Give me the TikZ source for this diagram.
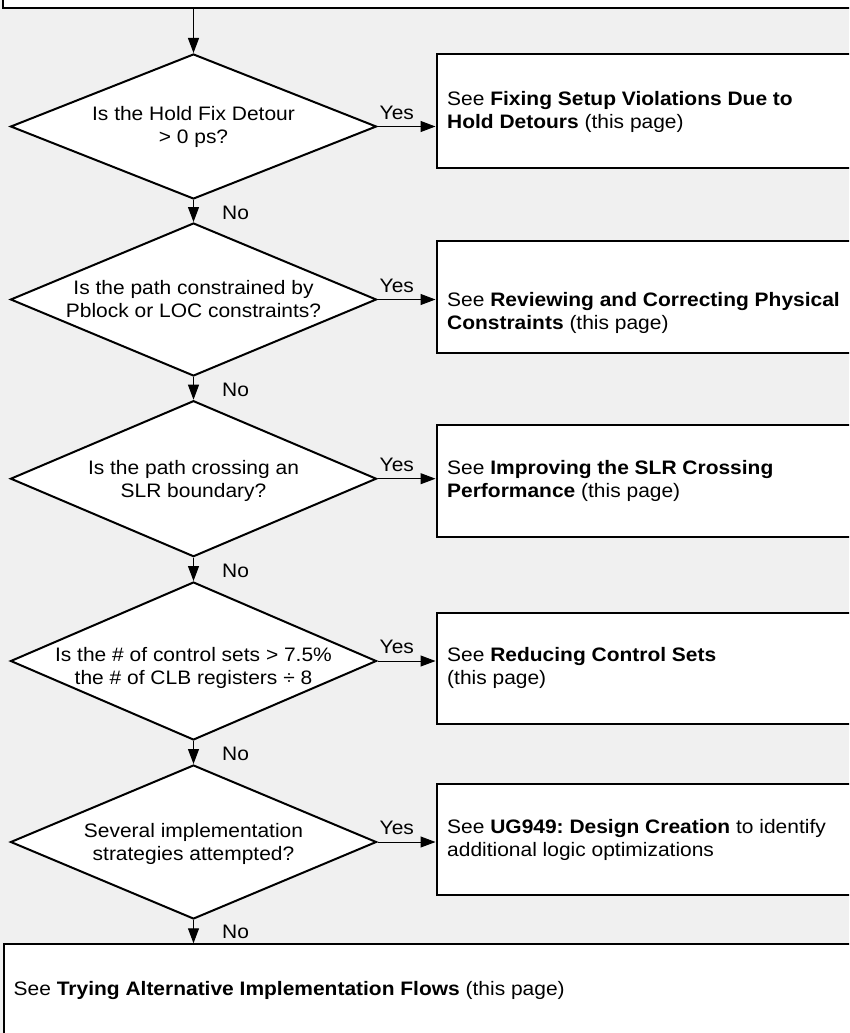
\documentclass[tikz,border=0pt]{standalone}
\usepackage{fontspec}
\setmainfont{Liberation Sans}[FakeStretch=1.075]
\usetikzlibrary{shapes.geometric,arrows.meta,calc}
\definecolor{bgc}{HTML}{F0F0F0}
\frenchspacing
\begin{document}
\begin{tikzpicture}[x=1pt,y=-1pt,
  every node/.style={font=\fontsize{19.5}{23}\selectfont, inner sep=0pt},
  dia/.style={shape=diamond, draw, fill=white, line width=2pt, minimum width=366pt},
  box/.style={draw, fill=white, line width=2pt, anchor=north west, minimum width=450pt},
  qtext/.style={align=center},
  btext/.style={align=left, anchor=north west},
  arr/.style={line width=1pt, -{Triangle[length=15pt,width=11pt]}},
  lbl/.style={anchor=base west}]
\useasboundingbox (0,0) rectangle (849,1033);
\fill[bgc] (0,0) rectangle (849,1033);
\clip (0,0) rectangle (849,1033);

% boxes
\node[box, anchor=south west, minimum width=900pt, minimum height=40pt] (top) at (2,9) {};
\node[box, minimum height=114pt] (b1) at (435.5,53) {};
\node[box, minimum height=111.7pt] (b2) at (435.5,240) {};
\node[box, minimum height=111.4pt] (b3) at (435.5,424.3) {};
\node[box, minimum height=111.3pt] (b4) at (435.5,611.7) {};
\node[box, minimum height=111.3pt] (b5) at (435.5,782.7) {};
\node[box, minimum width=900pt, minimum height=150pt] (fin) at (3,943.3) {};

% diamonds
\node[dia, minimum height=145pt] (d1) at (193.5,126.5) {};
\node[dia, minimum height=153pt] (d2) at (193.5,299.5) {};
\node[dia, minimum height=156pt] (d3) at (193.5,478.7) {};
\node[dia, minimum height=158pt] (d4) at (193.5,661) {};
\node[dia, minimum height=154pt] (d5) at (193.5,842) {};

% diamond texts
\node[qtext] (q1) at ($(d1)+(0,1.1)$) {\strut Is the Hold Fix Detour\\ > 0 ps?\strut};
\node[qtext] (q2) at ($(d2)+(0,1.4)$) {\strut Is the path constrained by\\ Pblock or LOC constraints?\strut};
\node[qtext] (q3) at ($(d3)+(0,2.5)$) {\strut Is the path crossing an\\ SLR boundary?\strut};
\node[qtext] (q4) at ($(d4)+(0,7.6)$) {\strut Is the \# of control sets > 7.5\%\\ the \# of CLB registers ÷ 8\strut};
\node[qtext] (q5) at ($(d5)+(0,1.9)$) {\strut Several implementation\\ strategies attempted?\strut};

% box texts
\node[btext] (t1) at ($(b1.north west)+(11.5,35.9)$) {\strut See \textbf{Fixing Setup Violations Due to}\\ \textbf{Hold Detours} (this page)\strut};
\node[btext] (t2) at ($(b2.north west)+(11.5,50.6)$) {\strut See \textbf{Reviewing and Correcting Physical}\\ \textbf{Constraints} (this page)\strut};
\node[btext] (t3) at ($(b3.north west)+(11.5,33.6)$) {\strut See \textbf{Improving the SLR Crossing}\\ \textbf{Performance} (this page)\strut};
\node[btext] (t4) at ($(b4.north west)+(11.5,33.9)$) {\strut See \textbf{Reducing Control Sets}\\ (this page)\strut};
\node[btext] (t5) at ($(b5.north west)+(11.5,34.5)$) {\strut See \textbf{UG949: Design Creation} to identify\\ additional logic optimizations\strut};
\node[btext] (t6) at ($(fin.north west)+(10.5,35.6)$) {\strut See \textbf{Trying Alternative Implementation Flows} (this page)};

% connectors
\draw[arr] (top.south -| d1.north) -- (d1.north);
\draw[arr] (d1.south) -- (d2.north);
\draw[arr] (d2.south) -- (d3.north);
\draw[arr] (d3.south) -- (d4.north);
\draw[arr] (d4.south) -- (d5.north);
\draw[arr] (d5.south) -- (d5.south |- fin.north);
\draw[arr] (d1.east) -- (d1.east -| b1.west);
\draw[arr] (d2.east) -- (d2.east -| b2.west);
\draw[arr] (d3.east) -- (d3.east -| b3.west);
\draw[arr] (d4.east) -- (d4.east -| b4.west);
\draw[arr] (d5.east) -- (d5.east -| b5.west);

% labels
\node[lbl] (y1) at ($(d1.east)+(2,-7.4)$) {Yes};
\node[lbl] (y2) at ($(d2.east)+(2,-7.4)$) {Yes};
\node[lbl] (y3) at ($(d3.east)+(2,-7.4)$) {Yes};
\node[lbl] (y4) at ($(d4.east)+(2,-7.4)$) {Yes};
\node[lbl] (y5) at ($(d5.east)+(2,-7.4)$) {Yes};
\node[lbl] (n1) at ($(d1.south)+(28.5,19.3)$) {No};
\node[lbl] (n2) at ($(d2.south)+(28.5,19.3)$) {No};
\node[lbl] (n3) at ($(d3.south)+(28.5,19.3)$) {No};
\node[lbl] (n4) at ($(d4.south)+(28.5,19.3)$) {No};
\node[lbl] (n5) at ($(d5.south)+(28.5,18.5)$) {No};
\end{tikzpicture}
\end{document}
